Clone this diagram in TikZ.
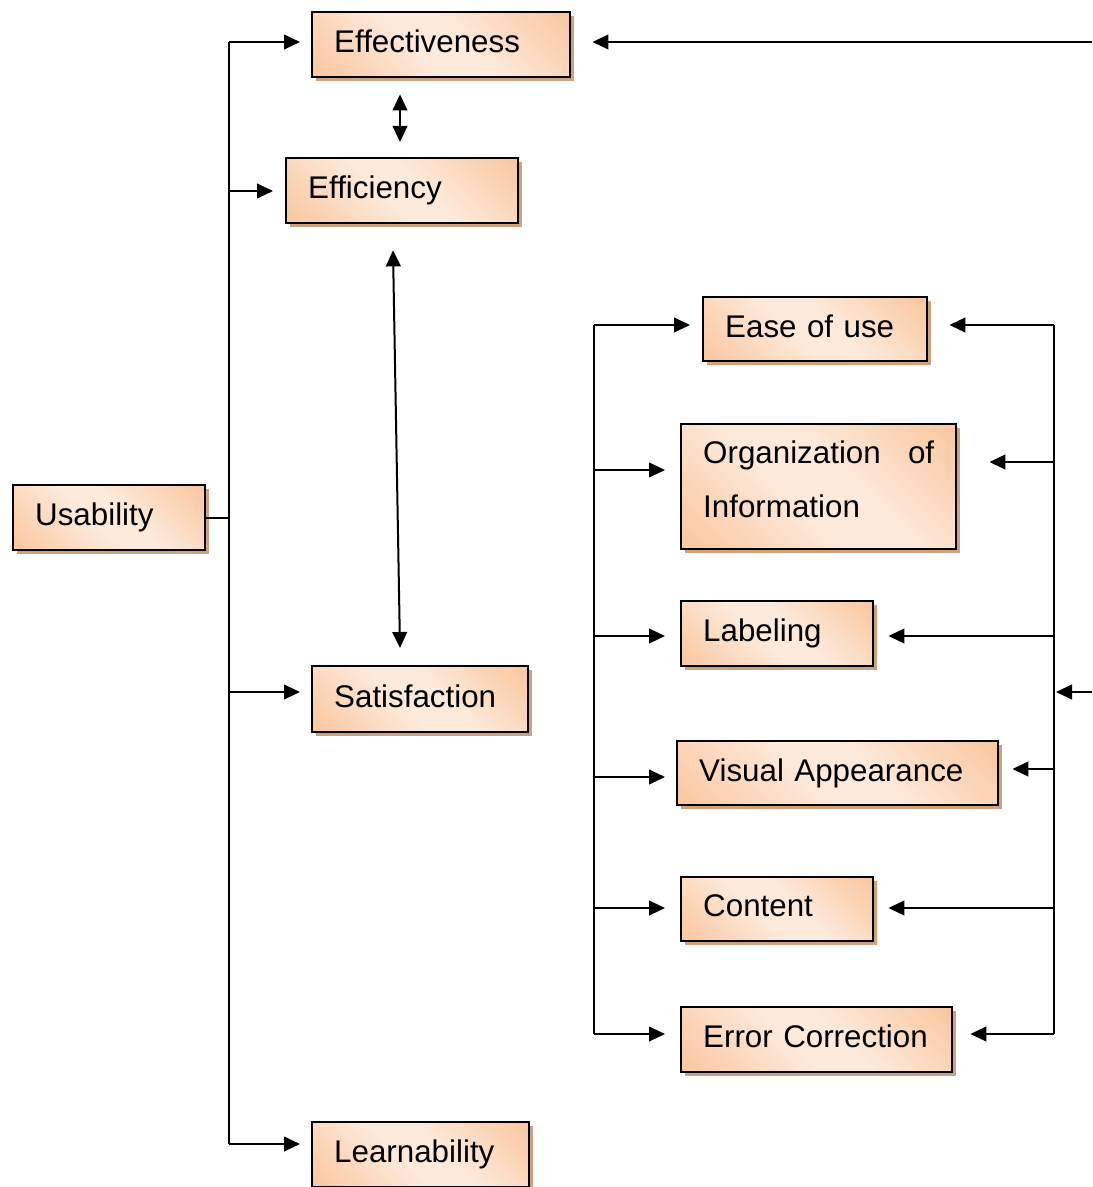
\documentclass[tikz,border=0pt]{standalone}
\usepackage{fontspec}
\setmainfont{Liberation Sans}
\usetikzlibrary{arrows.meta,calc,shadows}
\definecolor{borg}{RGB}{249,187,140}
\definecolor{blite}{RGB}{253,234,219}
\definecolor{bshadow}{RGB}{204,163,128}
\pgfdeclarehorizontalshading{boxshade}{100bp}{color(0bp)=(borg); color(6bp)=(borg); color(44bp)=(blite); color(56bp)=(blite); color(94bp)=(borg); color(100bp)=(borg)}
\tikzset{
  ubox/.style={draw=black, line width=1.8pt, shading=boxshade, shading angle=45,
    anchor=north west, inner xsep=16.5pt, inner ysep=0pt, align=left,
    font=\fontsize{23.5pt}{41pt}\selectfont, text depth=5pt,
    drop shadow={shadow xshift=3pt, shadow yshift=-3pt, fill=bshadow, opacity=1}},
  conn/.style={line width=1.5pt, black},
  tip/.tip={Triangle[length=12pt,width=11pt]},
  arr/.style={conn, -tip},
  darr/.style={conn, tip-tip}
}
\begin{document}
\begin{tikzpicture}[x=0.75pt,y=-0.75pt]
\useasboundingbox (0,0) rectangle (1092,1187);
% boxes
\node[ubox, text width=160.5pt, minimum height=48.75pt] (eff) at (311,11) {Effectiveness};
\node[ubox, text width=141pt, minimum height=48.75pt] (effi) at (285,157) {Efficiency};
\node[ubox, text width=111pt, minimum height=48.75pt] (usa) at (12,484) {Usability};
\node[ubox, text width=129pt, minimum height=49.5pt] (sat) at (311,665) {Satisfaction};
\node[ubox, text width=129.75pt, minimum height=48.75pt] (lea) at (311,1121) {Learnability};
\node[ubox, text width=135pt, minimum height=48pt] (ease) at (702,296) {Ease of use};
\node[ubox, text width=173.25pt, minimum height=93.75pt, text depth=52.5pt] (org) at (680,423) {\hbox to \linewidth{Organization\hfil of}\\Information};
\node[ubox, text width=111pt, minimum height=48.75pt] (lab) at (680,600) {Labeling};
\node[ubox, text width=207.75pt, minimum height=48pt] (vis) at (676,740) {Visual Appearance};
\node[ubox, text width=111pt, minimum height=48pt] (con) at (680,876) {Content};
\node[ubox, text width=170.25pt, minimum height=48.75pt] (err) at (680,1006) {Error Correction};
% left trunk
\coordinate (l1) at (229,42);
\coordinate (l2) at (229,191);
\coordinate (l3) at (229,692);
\coordinate (l4) at (229,1144);
\draw[conn] (l1) -- (l4);
\draw[conn] (usa.east) -- (usa.east -| l1);
\draw[arr, shorten >=8.25pt] (l1) -- (l1 -| eff.west);
\draw[arr, shorten >=9pt] (l2) -- (l2 -| effi.west);
\draw[arr, shorten >=8.25pt] (l3) -- (l3 -| sat.west);
\draw[arr, shorten >=8.25pt] (l4) -- (l4 -| lea.west);
% double arrows
\draw[darr] ($(eff.south west)+(89,16)$) -- ($(effi.north west)+(115,-15)$);
\draw[darr] ($(effi.south west)+(108,26)$) -- ($(sat.north west)+(89,-17)$);
% top right incoming
\coordinate (e1) at (1092,42);
\draw[arr, shorten >=15.75pt] (e1) -- (e1 -| eff.east);
% middle trunk
\coordinate (m1) at (594,325);
\coordinate (m2) at (594,470);
\coordinate (m3) at (594,636);
\coordinate (m4) at (594,777);
\coordinate (m5) at (594,908);
\coordinate (m6) at (594,1034);
\draw[conn] (m1) -- (m6);
\draw[arr, shorten >=9pt] (m1) -- (m1 -| ease.west);
\draw[arr, shorten >=11.25pt] (m2) -- (m2 -| org.west);
\draw[arr, shorten >=11.25pt] (m3) -- (m3 -| lab.west);
\draw[arr, shorten >=8.25pt] (m4) -- (m4 -| vis.west);
\draw[arr, shorten >=11.25pt] (m5) -- (m5 -| con.west);
\draw[arr, shorten >=11.25pt] (m6) -- (m6 -| err.west);
% right trunk
\coordinate (r1) at (1054,325);
\coordinate (r2) at (1054,462);
\coordinate (r3) at (1054,636);
\coordinate (r4) at (1054,769);
\coordinate (r5) at (1054,908);
\coordinate (r6) at (1054,1034);
\coordinate (rin) at (1054,692);
\coordinate (e2) at (1092,692);
\draw[conn] (r1) -- (r6);
\draw[arr, shorten >=15.75pt] (r1) -- (r1 -| ease.east);
\draw[arr, shorten >=24pt] (r2) -- (r2 -| org.east);
\draw[arr, shorten >=10.5pt] (r3) -- (r3 -| lab.east);
\draw[arr, shorten >=9.75pt] (r4) -- (r4 -| vis.east);
\draw[arr, shorten >=10.5pt] (r5) -- (r5 -| con.east);
\draw[arr, shorten >=12.75pt] (r6) -- (r6 -| err.east);
\draw[arr, shorten >=1.5pt] (e2) -- (rin);
\end{tikzpicture}
\end{document}
